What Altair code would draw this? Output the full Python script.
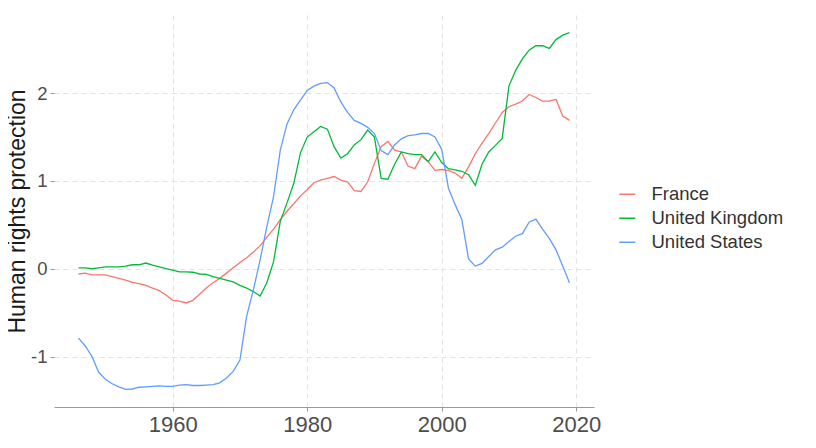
import altair as alt
import pandas as pd

years = list(range(1946, 2020))

france = [-0.06, -0.05, -0.07, -0.07, -0.07, -0.09, -0.11, -0.13, -0.155, -0.17,
          -0.19, -0.22, -0.25, -0.30, -0.36, -0.37, -0.39, -0.36, -0.29, -0.22,
          -0.16, -0.11, -0.05, 0.01, 0.07, 0.125, 0.19, 0.26, 0.36, 0.45,
          0.56, 0.655, 0.74, 0.83, 0.90, 0.98, 1.01, 1.03, 1.05, 1.01,
          0.99, 0.89, 0.88, 0.99, 1.20, 1.39, 1.45, 1.35, 1.33, 1.17,
          1.14, 1.28, 1.22, 1.12, 1.13, 1.12, 1.09, 1.03, 1.16, 1.31,
          1.43, 1.54, 1.66, 1.78, 1.845, 1.875, 1.91, 1.985, 1.95, 1.91,
          1.91, 1.93, 1.74, 1.69]

uk = [0.01, 0.01, 0.0, 0.01, 0.02, 0.02, 0.02, 0.03, 0.045, 0.045,
      0.065, 0.04, 0.02, 0.0, -0.015, -0.035, -0.035, -0.04, -0.06, -0.065,
      -0.09, -0.11, -0.13, -0.15, -0.19, -0.22, -0.26, -0.31, -0.16, 0.08,
      0.54, 0.75, 0.97, 1.32, 1.50, 1.56, 1.62, 1.59, 1.39, 1.26,
      1.31, 1.41, 1.47, 1.58, 1.50, 1.03, 1.02, 1.19, 1.33, 1.31,
      1.30, 1.30, 1.22, 1.33, 1.21, 1.14, 1.125, 1.11, 1.07, 0.95,
      1.19, 1.33, 1.405, 1.485, 2.08, 2.26, 2.39, 2.49, 2.54, 2.54,
      2.51, 2.61, 2.66, 2.69]

us = [-0.79, -0.88, -1.00, -1.18, -1.26, -1.31, -1.345, -1.375, -1.37, -1.35,
      -1.345, -1.34, -1.335, -1.34, -1.34, -1.325, -1.32, -1.33, -1.33, -1.325,
      -1.32, -1.30, -1.245, -1.17, -1.04, -0.54, -0.24, 0.10, 0.48, 0.82,
      1.35, 1.65, 1.81, 1.92, 2.03, 2.08, 2.11, 2.12, 2.06, 1.90,
      1.78, 1.69, 1.655, 1.61, 1.54, 1.345, 1.30, 1.41, 1.48, 1.515,
      1.525, 1.54, 1.54, 1.50, 1.36, 0.92, 0.73, 0.56, 0.11, 0.03,
      0.06, 0.14, 0.215, 0.245, 0.31, 0.37, 0.40, 0.53, 0.565, 0.45,
      0.345, 0.215, 0.03, -0.16]

countries = ["France", "United Kingdom", "United States"]
colors = ["#F8766D", "#00BA38", "#619CFF"]

rows = []
for name, vals in zip(countries, [france, uk, us]):
    for yr, v in zip(years, vals):
        rows.append({"year": yr, "value": v, "country": name})
df = pd.DataFrame(rows)

FONT = "Liberation Sans"

chart = alt.Chart(df).mark_line(strokeWidth=1.3).encode(
    x=alt.X("year:Q",
            scale=alt.Scale(domain=[1942.35, 2022.65], nice=False, zero=False),
            axis=alt.Axis(values=[1960, 1980, 2000, 2020], format="d", title=None,
                          labelFontSize=22, labelColor="#4d4d4d", labelFont=FONT,
                          labelPadding=3, tickSize=4, tickColor="#999999",
                          domain=True, domainColor="#999999", domainWidth=1.2,
                          grid=True, gridColor="#e4e4e4", gridDash=[5, 4], gridWidth=1.1)),
    y=alt.Y("value:Q",
            scale=alt.Scale(domain=[-1.575, 2.89], nice=False, zero=False),
            axis=alt.Axis(values=[-1, 0, 1, 2], title="Human rights protection",
                          labelExpr="datum.value < 0 ? '-' + abs(datum.value) : '' + datum.value",
                          labelFontSize=18.5, labelColor="#4d4d4d", labelFont=FONT,
                          labelPadding=3, tickSize=4, tickColor="#999999",
                          domain=False,
                          grid=True, gridColor="#e4e4e4", gridDash=[5, 4], gridWidth=1.1,
                          titleFont=FONT, titleFontSize=23, titleFontWeight="normal",
                          titleColor="#1a1a1a", titleX=-25, titleBaseline="bottom",
                          titleAngle=270)),
    color=alt.Color("country:N",
                    scale=alt.Scale(domain=countries, range=colors),
                    legend=alt.Legend(title=None, orient="none", legendX=564, legendY=170,
                                      symbolType="stroke", symbolSize=256,
                                      symbolStrokeWidth=1.5,
                                      labelFontSize=18.5, labelFont=FONT, labelColor="#333333",
                                      labelOffset=15, rowPadding=5, padding=0)),
).properties(
    width=540, height=392,
    autosize=alt.AutoSizeParams(type="none"),
    padding={"left": 46, "top": 7, "right": 214, "bottom": 33},
).configure_view(stroke=None)

chart.save("out.html", embed_options={"renderer": "svg", "actions": False})
